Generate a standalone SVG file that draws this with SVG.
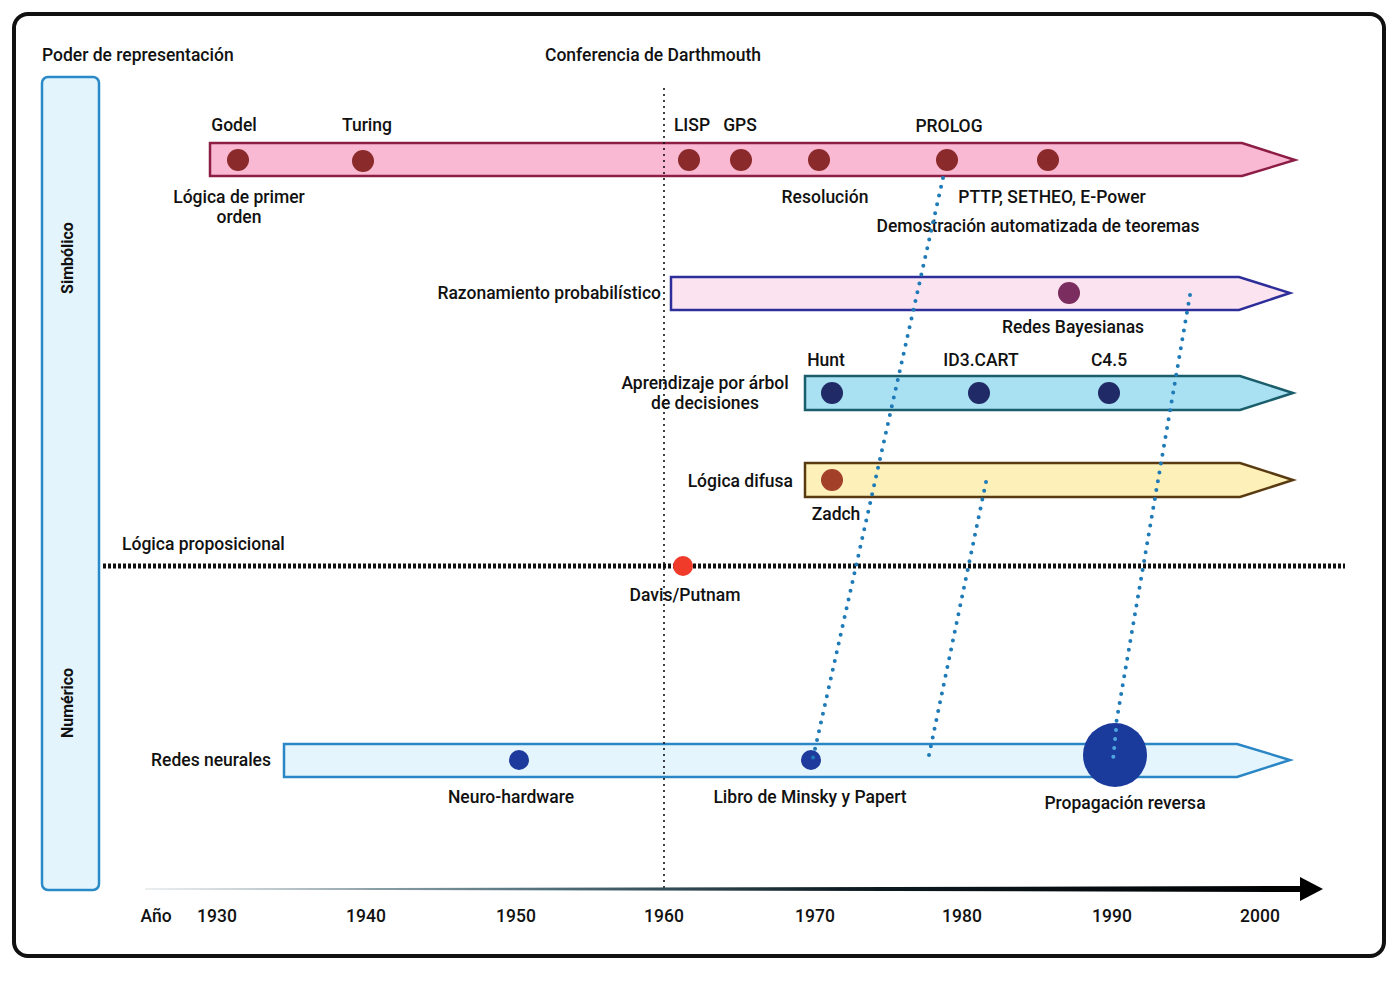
<svg xmlns="http://www.w3.org/2000/svg" width="1400" height="983" viewBox="0 0 1400 983">
<defs>
<style>
text{font-family:Roboto,"Liberation Sans",Arial,sans-serif;font-weight:500;font-size:17.5px;fill:#111}
.c{text-anchor:middle}
.r{text-anchor:end}
.band{stroke-width:2.5}
.conn{fill:none;stroke:#1f7ab8;stroke-width:4;stroke-linecap:round;stroke-dasharray:0 9}
.yr{font-size:17.5px;text-anchor:middle}
</style>
<linearGradient id="axisG" x1="0" y1="0" x2="1" y2="0">
<stop offset="0" stop-color="#d8dde0"/>
<stop offset="0.35" stop-color="#4f6f7a"/>
<stop offset="0.6" stop-color="#0d1c24"/>
<stop offset="1" stop-color="#000"/>
</linearGradient>
</defs>
<rect width="1400" height="983" fill="#fff"/>
<rect x="14" y="14" width="1370" height="942" rx="14" fill="#fff" stroke="#111" stroke-width="4"/>

<g id="side">
<rect x="42" y="77" width="57" height="813" rx="6" fill="#e3f4fc" stroke="#2a8ac7" stroke-width="2.5"/>
<text transform="translate(73,258) rotate(-90)" class="c" style="font-weight:700;font-size:16px">Simbólico</text>
<text transform="translate(73,703) rotate(-90)" class="c" style="font-weight:700;font-size:16px">Numérico</text>
</g>

<text x="42" y="61">Poder de representación</text>
<text x="653" y="61" class="c">Conferencia de Darthmouth</text>

<g id="band-logica">
<polygon class="band" points="210,143 1242,143 1295,160 1242,176 210,176" fill="#f9b9d3" stroke="#8c1d45"/>
<g fill="#8b2a2a">
<circle cx="238" cy="160" r="11"/><circle cx="363" cy="161" r="11"/><circle cx="689" cy="160" r="11"/><circle cx="741" cy="160" r="11"/><circle cx="819" cy="160" r="11"/><circle cx="947" cy="160" r="11"/><circle cx="1048" cy="160" r="11"/>
</g>
<text x="234" y="131" class="c">Godel</text>
<text x="367" y="131" class="c">Turing</text>
<text x="692" y="131" class="c">LISP</text>
<text x="740" y="131" class="c">GPS</text>
<text x="949" y="132" class="c">PROLOG</text>
<text x="239" y="203" class="c">Lógica de primer</text>
<text x="239" y="223" class="c">orden</text>
<text x="825" y="203" class="c">Resolución</text>
<text x="1052" y="203" class="c">PTTP, SETHEO, E-Power</text>
<text x="1038" y="232" class="c">Demostración automatizada de teoremas</text>
</g>

<g id="band-prob">
<polygon class="band" points="671,277 1239,277 1290,293 1239,310 671,310" fill="#fbe4f0" stroke="#2e2e9a"/>
<circle cx="1069" cy="293" r="11" fill="#7a2d5e"/>
<text x="661" y="299" class="r">Razonamiento probabilístico</text>
<text x="1073" y="333" class="c">Redes Bayesianas</text>
</g>

<g id="band-arbol">
<polygon class="band" points="805,376 1240,376 1293,393 1240,410 805,410" fill="#a9e1f3" stroke="#1a5e6b"/>
<g fill="#1f2a66">
<circle cx="832" cy="393" r="11"/><circle cx="979" cy="393" r="11"/><circle cx="1109" cy="393" r="11"/>
</g>
<text x="826" y="366" class="c">Hunt</text>
<text x="981" y="366" class="c">ID3.CART</text>
<text x="1109" y="366" class="c">C4.5</text>
<text x="705" y="389" class="c">Aprendizaje por árbol</text>
<text x="705" y="409" class="c">de decisiones</text>
</g>

<g id="band-difusa">
<polygon class="band" points="805,463 1240,463 1293,480 1240,497 805,497" fill="#fdf1b9" stroke="#5a3a10"/>
<circle cx="832" cy="480" r="11" fill="#a3402a"/>
<text x="793" y="487" class="r">Lógica difusa</text>
<text x="836" y="520" class="c">Zadch</text>
</g>

<g id="proposicional">
<line x1="103" y1="566" x2="1345" y2="566" stroke="#111" stroke-width="5" stroke-dasharray="3 2"/>
<text x="122" y="550">Lógica proposicional</text>
<circle cx="683" cy="566" r="10" fill="#f03a2a"/>
<text x="685" y="601" class="c">Davis/Putnam</text>
</g>

<g id="band-neural">
<polygon class="band" points="284,744 1237,744 1290,760 1237,777 284,777" fill="#e4f5fd" stroke="#2a86c5"/>
<circle cx="519" cy="760" r="10" fill="#1e3a9c"/>
<circle cx="811" cy="760" r="10" fill="#1e3a9c"/>
<circle cx="1115" cy="755" r="32" fill="#1a3a9c"/>
<text x="271" y="766" class="r">Redes neurales</text>
<text x="511" y="803" class="c">Neuro-hardware</text>
<text x="810" y="803" class="c">Libro de Minsky y Papert</text>
<text x="1125" y="809" class="c">Propagación reversa</text>
</g>

<line id="darthmouth" x1="664" y1="88" x2="664" y2="888" stroke="#111" stroke-width="1.6" stroke-dasharray="2 4"/>

<g id="connectors">
<path class="conn" d="M943,178 L813,758"/>
<path class="conn" d="M986,482 L928,760"/>
<path class="conn" d="M1190,295 L1116,724"/>
<path class="conn" d="M1116,730 L1113,760" style="stroke:#4ea6de"/>
</g>

<g id="axis">
<polygon points="145,888.6 1305,886 1305,892 145,889.4" fill="url(#axisG)"/>
<polygon points="1300,877 1323,889 1300,901" fill="#000"/>
<text x="156" y="922" class="yr">Año</text>
<text x="217" y="922" class="yr">1930</text>
<text x="366" y="922" class="yr">1940</text>
<text x="516" y="922" class="yr">1950</text>
<text x="664" y="922" class="yr">1960</text>
<text x="815" y="922" class="yr">1970</text>
<text x="962" y="922" class="yr">1980</text>
<text x="1112" y="922" class="yr">1990</text>
<text x="1260" y="922" class="yr">2000</text>
</g>
</svg>
